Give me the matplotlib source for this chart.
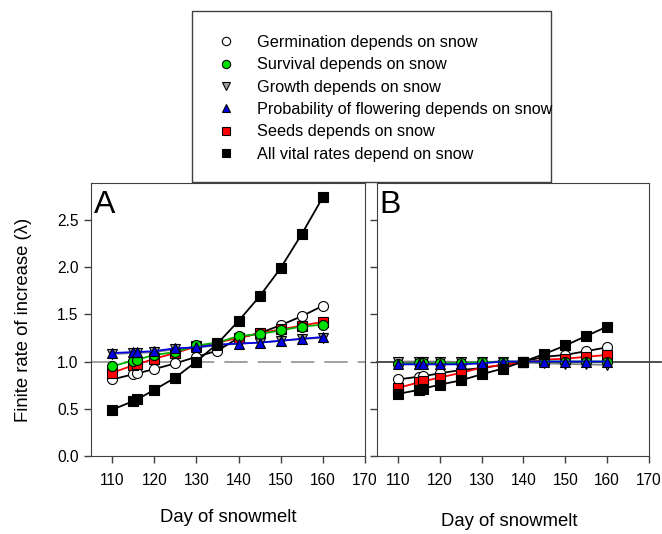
import matplotlib
matplotlib.use("Agg")
import matplotlib.pyplot as plt
from matplotlib.lines import Line2D
from matplotlib.patches import Rectangle

plt.rcParams['font.family'] = ['Liberation Sans', 'DejaVu Sans']

days = [110, 115, 116, 120, 125, 130, 135, 140, 145, 150, 155, 160]

# panel A
germ_a = [0.81, 0.865, 0.875, 0.92, 0.98, 1.05, 1.115, 1.25, 1.30, 1.385, 1.48, 1.59]
surv_a = [0.95, 1.01, 1.02, 1.07, 1.10, 1.17, 1.20, 1.27, 1.29, 1.33, 1.37, 1.39]
grow_a = [1.08, 1.09, 1.09, 1.10, 1.13, 1.15, 1.17, 1.19, 1.20, 1.22, 1.24, 1.25]
flow_a = [1.09, 1.10, 1.10, 1.11, 1.14, 1.15, 1.18, 1.19, 1.20, 1.22, 1.24, 1.26]
seed_a = [0.88, 0.96, 0.97, 1.03, 1.09, 1.16, 1.20, 1.25, 1.30, 1.34, 1.38, 1.42]
all_a = [0.49, 0.58, 0.60, 0.70, 0.83, 1.00, 1.19, 1.43, 1.69, 1.99, 2.35, 2.74]

# panel B
germ_b = [0.81, 0.84, 0.845, 0.875, 0.91, 0.93, 0.965, 1.00, 1.05, 1.07, 1.11, 1.15]
surv_b = [0.975, 0.98, 0.98, 0.98, 0.985, 0.99, 1.00, 1.00, 1.00, 1.00, 1.00, 1.00]
grow_b = [1.00, 1.00, 1.00, 1.00, 0.995, 0.995, 1.00, 0.99, 0.98, 0.975, 0.97, 0.965]
flow_b = [0.97, 0.97, 0.97, 0.97, 0.97, 0.98, 1.00, 1.00, 1.00, 1.00, 1.00, 1.00]
seed_b = [0.72, 0.78, 0.79, 0.83, 0.88, 0.935, 0.965, 0.99, 1.02, 1.03, 1.05, 1.07]
all_b = [0.657, 0.70, 0.713, 0.755, 0.80, 0.865, 0.925, 1.00, 1.08, 1.17, 1.27, 1.37]

labels = ["Germination depends on snow", "Survival depends on snow",
          "Growth depends on snow", "Probability of flowering depends on snow",
          "Seeds depends on snow", "All vital rates depend on snow"]

# (line colour, marker, face colour) in the same order as labels
styles = [("black", "o", "white"), ("#00b000", "o", "#00e000"),
          ("#808080", "v", "#a0a0a0"), ("#0000e0", "^", "#0000e0"),
          ("#ff0000", "s", "#ff0000"), ("black", "s", "black")]
draw_order = [2, 0, 4, 1, 3, 5]

fig = plt.figure(figsize=(6.62, 5.34), dpi=100)
axA = fig.add_axes([0.1375, 0.1461, 0.4139, 0.5112])
axB = fig.add_axes([0.5695, 0.1461, 0.4109, 0.5112])

def panel(ax, series, letter):
    for i in draw_order:
        col, mk, fc = styles[i]
        ax.plot(days, series[i], color=col, lw=1.3, marker=mk, ms=7.2,
                mfc=fc, mec="black", mew=0.8, zorder=3 + draw_order.index(i))
    ax.set_xlim(105, 170)
    ax.set_ylim(0, 2.89)
    ax.set_xticks(range(110, 171, 10))
    ax.set_yticks([0, 0.5, 1.0, 1.5, 2.0, 2.5])
    ax.tick_params(direction="out", length=5, width=1, labelsize=11.2, color="#404040")
    ax.tick_params(axis="x", pad=7)
    ax.tick_params(axis="y", pad=4)
    for s in ax.spines.values():
        s.set_color("#404040")
    ax.text(0.01, 0.975, letter, transform=ax.transAxes, fontsize=23,
            va="top", ha="left")

panel(axA, [germ_a, surv_a, grow_a, flow_a, seed_a, all_a], "A")
panel(axB, [germ_b, surv_b, grow_b, flow_b, seed_b, all_b], "B")

axA.axhline(1.0, color="#909090", lw=1.2, dashes=(14, 6), zorder=1)
axB.axhline(1.0, xmin=0, xmax=1.045, color="#303030", lw=1.2, zorder=1, clip_on=False)
axA.yaxis.set_major_formatter(plt.FormatStrFormatter("%.1f"))
axB.set_yticklabels([])

axA.set_ylabel("Finite rate of increase (\u03bb)", fontsize=13.3, labelpad=18)
fig.text(228 / 662, 1 - 517 / 534, "Day of snowmelt", fontsize=13.3, ha="center", va="center")
fig.text(509 / 662, 1 - 522 / 534, "Day of snowmelt", fontsize=13.3, ha="center", va="center")

# legend box
fig.patches.append(Rectangle((192 / 662, 1 - 182 / 534), 359 / 662, 171 / 534,
                             transform=fig.transFigure, fill=False,
                             edgecolor="#404040", lw=1.0, zorder=0))
handles = [Line2D([], [], ls="none", marker=mk, ms=6, mfc=fc, mec="black", mew=0.8)
           for col, mk, fc in styles]
fig.legend(handles, labels, loc="upper left", bbox_to_anchor=(216 / 662, 1 - 35 / 534),
           frameon=False, fontsize=11.7, handlelength=1.2, handletextpad=1.3,
           labelspacing=0.45, borderpad=0, borderaxespad=0)

fig.savefig("out.png", dpi=100)
